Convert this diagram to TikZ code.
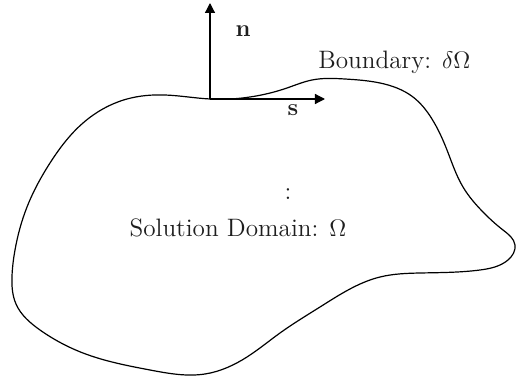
\documentclass[tikz,border=0pt]{standalone}
\usepackage{amsmath,amssymb}
\usepackage{tikz}
\usetikzlibrary{arrows.meta,positioning,calc,hobby}
\definecolor{lineblk}{RGB}{0,0,0}
\definecolor{txtgray}{RGB}{30,30,30}
\tikzset{
  vecarr/.style={-{Triangle[length=5pt, width=5pt]}, lineblk, line width=0.6pt},
  bndline/.style={lineblk, line width=0.6pt},
  lbl/.style={text=txtgray, font=\fontsize{12.6}{15}\selectfont, inner sep=0pt},
}
\begin{document}
\begin{tikzpicture}[x=0.5pt, y=0.5pt]
  \useasboundingbox (0,0) rectangle (516,376);
  % domain boundary
  \draw[bndline, use Hobby shortcut, closed=true]
    (210,277) .. (250,279) .. (287,288) .. (312,296) .. (345,297)
    .. (380,293) .. (413,279) .. (432,257) .. (447,226) .. (463,189)
    .. (483,164) .. (503,146) .. (515,131) .. (508,116) .. (480,106)
    .. (420,103) .. (380,99) .. (320,69) .. (280,43) .. (247,19)
    .. (205,2) .. (150,6) .. (83,23) .. (40,46) .. (16,72) .. (12,100)
    .. (15,126) .. (27,169) .. (50,213) .. (83,253) .. (127,277)
    .. (165,281);
  % normal and tangent
  \coordinate (p) at (210,277);
  \coordinate (ntip) at (210,373);
  \coordinate (stip) at (325,277);
  \draw[vecarr] (p) -- (ntip);
  \draw[vecarr] (p) -- (stip);
  \node[lbl] (nlab) at (243,345) {$\mathbf{n}$};
  \node[lbl] (slab) at (293,266) {$\mathbf{s}$};
  \node[lbl, anchor=west] (bnd) at (318,314) {Boundary: $\delta\Omega$};
  \node[lbl] (dots) at (288,182) {:};
  \node[lbl] (dom) at (238,148) {Solution Domain: $\Omega$};
\end{tikzpicture}
\end{document}
